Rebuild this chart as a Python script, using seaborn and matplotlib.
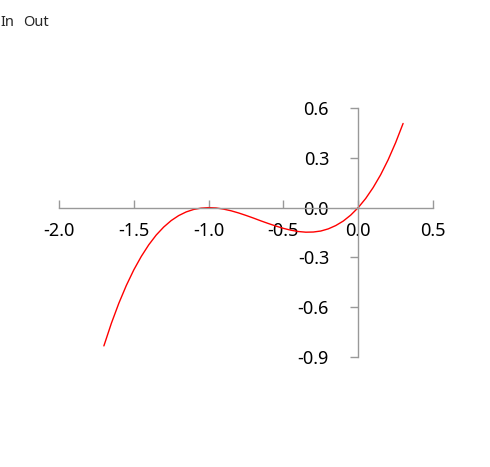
import matplotlib
matplotlib.use("Agg")
import matplotlib.pyplot as plt
import seaborn as sns
import pandas as pd

# points
x_vals = [-1.70, -1.65, -1.60, -1.55, -1.50, -1.45, -1.40, -1.35, -1.30, -1.25,
          -1.20, -1.15, -1.10, -1.05, -1.00, -0.95, -0.90, -0.85, -0.80, -0.75,
          -0.70, -0.65, -0.60, -0.55, -0.50, -0.45, -0.40, -0.35, -0.30, -0.25,
          -0.20, -0.15, -0.10, -0.05, 0.00, 0.05, 0.10, 0.15, 0.20, 0.25, 0.30]
y_vals = [-0.833, -0.697, -0.576, -0.469, -0.375, -0.294, -0.224, -0.165, -0.117, -0.078,
          -0.048, -0.026, -0.011, -0.003, 0.000, -0.002, -0.009, -0.019, -0.032, -0.047,
          -0.063, -0.080, -0.096, -0.111, -0.125, -0.136, -0.144, -0.148, -0.147, -0.141,
          -0.128, -0.108, -0.081, -0.045, 0.000, 0.055, 0.121, 0.198, 0.288, 0.391, 0.507]
x_ticks = [-2.0, -1.5, -1.0, -0.5, 0.0, 0.5]
y_ticks = [-0.9, -0.6, -0.3, 0.0, 0.3, 0.6]

sns.set_style("white")
plt.rcParams['font.family'] = ['Noto Sans', 'DejaVu Sans']

df = pd.DataFrame({'x': x_vals, 'y': y_vals})

fig = plt.figure(figsize=(4.9, 4.67), dpi=100)
ax = fig.add_axes([0.1204, 0.2355, 0.7633, 0.5332])
sns.lineplot(data=df, x='x', y='y', sort=False, color='red', linewidth=1.0, ax=ax)

ax.set_xlim(-2.0, 0.5)
ax.set_ylim(-0.9, 0.6)
ax.set_xticks(x_ticks)
ax.set_yticks(y_ticks)
ax.set_xticklabels([f"{t:.1f}" for t in x_ticks])
ax.set_yticklabels([f"{t:.1f}" for t in y_ticks])
ax.set_xlabel('')
ax.set_ylabel('')

for side in ['top', 'right']:
    ax.spines[side].set_visible(False)
ax.spines['left'].set_position(('data', 0))
ax.spines['bottom'].set_position(('data', 0))
for side in ['left', 'bottom']:
    ax.spines[side].set_color('#999999')
    ax.spines[side].set_linewidth(1.0)

ax.tick_params(axis='x', direction='in', length=6, width=1, color='#999999',
               pad=10, labelsize=13, labelcolor='black', bottom=True)
ax.tick_params(axis='y', direction='out', length=6, width=1, color='#999999',
               pad=15, labelsize=13, labelcolor='black', left=True)

fig.text(0.0, 1 - 26 / 467, 'In', fontsize=10.5, va='baseline', ha='left')
fig.text(23 / 490, 1 - 26 / 467, 'Out', fontsize=10.5, va='baseline', ha='left')

fig.savefig('out.png', dpi=100)
